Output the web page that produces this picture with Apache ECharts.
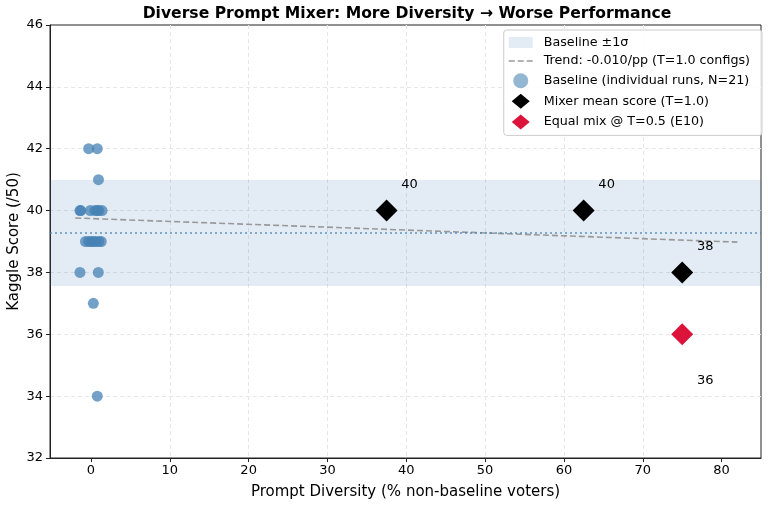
<!DOCTYPE html>
<html><head><meta charset="utf-8">
<script src="https://cdn.jsdelivr.net/npm/echarts@6/dist/echarts.min.js"></script>
<style>html,body{margin:0;padding:0;background:#fff}#c{width:768px;height:505px}</style>
</head><body><div id="c"></div>
<script>
const title = 'Diverse Prompt Mixer: More Diversity \u2192 Worse Performance';
const xTicks = [0, 10, 20, 30, 40, 50, 60, 70, 80];
const yTicks = [32, 34, 36, 38, 40, 42, 44, 46];
const baselineX = [-0.3, 0.8, 0.95, -1.4, -1.3, -0.1, 0.5, 0.8, 1.0, 1.4, -0.7, -0.3, 0.0, 0.3, 0.6, 1.0, 1.3, -1.4, 0.93, 0.3, 0.8];
const baselineY = [42, 42, 41, 40, 40, 40, 40, 40, 40, 40, 39, 39, 39, 39, 39, 39, 39, 38, 38, 37, 34];
const baselineMean = 39.28;
const baselineLow = 37.56;
const baselineHigh = 40.99;
const trendX = [-2, 82];
const trendY = [39.76, 38.98];
const mixerX = [37.5, 62.5, 75];
const mixerY = [40, 40, 38];
const equalX = [75];
const equalY = [36];
const names = ['Baseline \u00b11\u03c3', 'Trend: -0.010/pp (T=1.0 configs)', 'Baseline (individual runs, N=21)', 'Mixer mean score (T=1.0)', 'Equal mix @ T=0.5 (E10)'];

const zip = (a, b) => a.map((v, i) => [v, b[i]]);
const font = 'DejaVu Sans';
const chart = echarts.init(document.getElementById('c'));
chart.setOption({
  animation: false,
  backgroundColor: '#fff',
  textStyle: { fontFamily: font },
  title: { text: title, left: 402, textAlign: 'center', top: 1,
    textStyle: { fontFamily: font, fontSize: 15.6, fontWeight: 'bold', color: '#000' } },
  grid: { left: 50, right: 7, top: 25, bottom: 47, show: true, borderColor: '#222', borderWidth: 1,
    containLabel: false, outerBoundsMode: 'none' },
  legend: {
    orient: 'vertical', right: 6, top: 30, backgroundColor: 'rgba(255,255,255,0.85)',
    borderColor: '#ccc', borderWidth: 1, borderRadius: 3, padding: [6, 12, 6, 5], itemGap: 5.6,
    itemWidth: 24, itemHeight: 15,
    textStyle: { fontFamily: font, fontSize: 12.7, color: '#000', padding: [0, 0, 0, 6] },
    data: [
      { name: names[0], icon: 'path://M0,2h24v11h-24z', itemStyle: { color: 'rgba(70,130,180,0.15)' } },
      { name: names[1], icon: 'path://M0,7h6v1.5h-6z M9,7h6v1.5h-6z M18,7h6v1.5h-6z', itemStyle: { color: '#999' } },
      { name: names[2], icon: 'path://M7,7.5a5,5 0 1,0 10,0a5,5 0 1,0 -10,0z', itemStyle: { color: 'rgba(70,130,180,0.78)' } },
      { name: names[3], icon: 'path://M12,0L21,7.5L12,15L3,7.5z', itemStyle: { color: '#000' } },
      { name: names[4], icon: 'path://M12,0L21,7.5L12,15L3,7.5z', itemStyle: { color: '#DC143C' } }
    ]
  },
  xAxis: {
    type: 'value', min: -5.2, max: 85,
    name: 'Prompt Diversity (% non-baseline voters)', nameLocation: 'middle', nameGap: 27, nameMoveOverlap: false,
    nameTextStyle: { fontFamily: font, fontSize: 15, color: '#000' },
    axisLine: { show: true, onZero: false, lineStyle: { color: '#222' } },
    axisTick: { show: true, length: 4, lineStyle: { color: '#222' }, customValues: xTicks },
    axisLabel: { fontFamily: font, fontSize: 13, color: '#000', margin: 6, customValues: xTicks },
    splitLine: { show: true, showMinLine: false, showMaxLine: false, lineStyle: { color: '#e6e6e6', type: [4, 3] } }
  },
  yAxis: {
    type: 'value', min: 32, max: 46, interval: 2,
    name: 'Kaggle Score (/50)', nameLocation: 'middle', nameGap: 28, nameMoveOverlap: false,
    nameTextStyle: { fontFamily: font, fontSize: 15, color: '#000' },
    axisLine: { show: true, onZero: false, lineStyle: { color: '#222' } },
    axisTick: { show: true, length: 4, lineStyle: { color: '#222' } },
    axisLabel: { fontFamily: font, fontSize: 13, color: '#000', margin: 7 },
    splitLine: { show: true, showMinLine: false, showMaxLine: false, lineStyle: { color: '#e6e6e6', type: [4, 3] } }
  },
  series: [
    { name: names[0], type: 'line', data: [], symbol: 'none', silent: true,
      markArea: { silent: true, itemStyle: { color: 'rgba(70,130,180,0.15)' },
        data: [[{ yAxis: baselineLow }, { yAxis: baselineHigh }]] },
      markLine: { silent: true, symbol: 'none', label: { show: false },
        lineStyle: { color: '#4682B4', type: [2, 3], width: 1.5, opacity: 0.85 },
        data: [{ yAxis: baselineMean }] } },
    { name: names[1], type: 'line', data: zip(trendX, trendY), symbol: 'none', z: 3,
      lineStyle: { color: '#999', type: [6, 3], width: 1.6 } },
    { name: names[2], type: 'scatter', data: zip(baselineX, baselineY), symbolSize: 11, z: 4,
      itemStyle: { color: '#4682B4', opacity: 0.75 } },
    { name: names[3], type: 'scatter', data: zip(mixerX, mixerY), symbol: 'diamond', symbolSize: 22, z: 5,
      itemStyle: { color: '#000', opacity: 1 },
      label: { show: true, position: 'inside', offset: [23, -26], color: '#000', fontSize: 13, fontFamily: font,
        formatter: p => String(p.value[1]) } },
    { name: names[4], type: 'scatter', data: zip(equalX, equalY), symbol: 'diamond', symbolSize: 22, z: 5,
      itemStyle: { color: '#DC143C', opacity: 1 },
      label: { show: true, position: 'inside', offset: [23, 46], color: '#000', fontSize: 13, fontFamily: font,
        formatter: p => String(p.value[1]) } }
  ]
});
</script></body></html>
